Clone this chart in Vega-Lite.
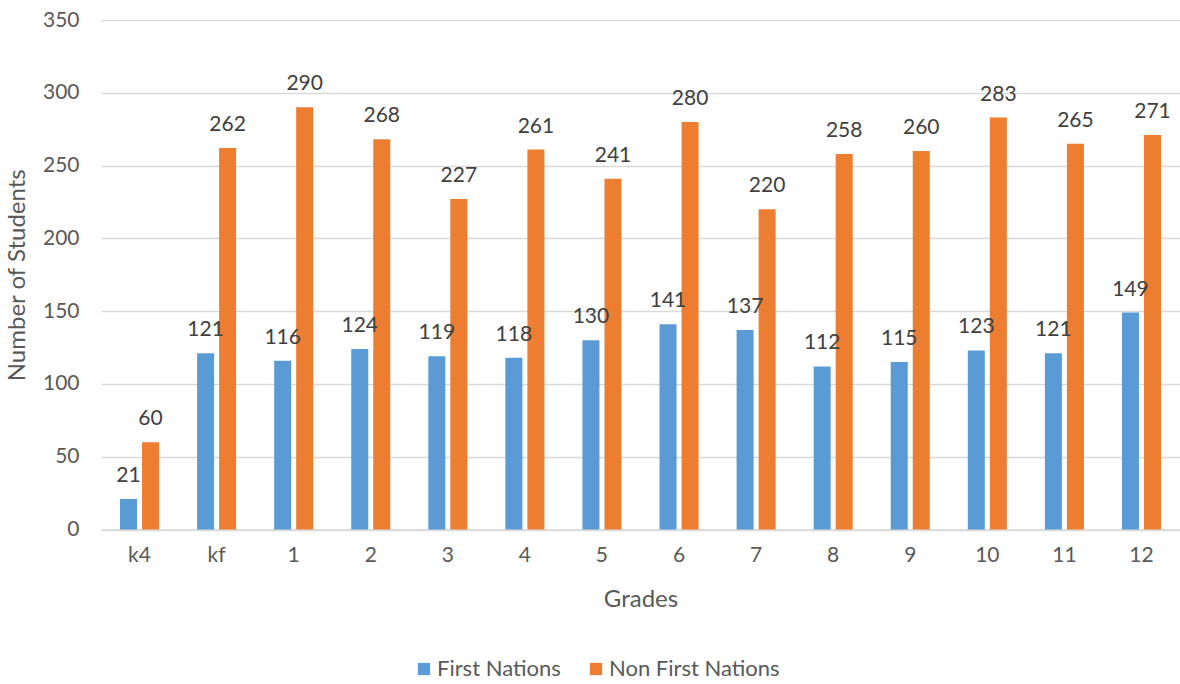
{
  "$schema": "https://vega.github.io/schema/vega-lite/v6.json",
  "autosize": {"type": "none"},
  "width": 1079,
  "height": 509.5,
  "padding": {"left": 101, "top": 20, "right": 0, "bottom": 154.5},
  "background": "white",
  "config": {
    "view": {"stroke": null},
    "font": "Lato",
    "axis": {"labelFont": "Lato", "titleFont": "Lato", "labelColor": "#595959", "titleColor": "#595959", "labelFontSize": 21, "titleFontSize": 24, "titleFontWeight": "normal"}
  },
  "data": {
    "values": [
      {"grade": "k4", "group": "First Nations", "value": 21},
      {"grade": "k4", "group": "Non First Nations", "value": 60},
      {"grade": "kf", "group": "First Nations", "value": 121},
      {"grade": "kf", "group": "Non First Nations", "value": 262},
      {"grade": "1", "group": "First Nations", "value": 116},
      {"grade": "1", "group": "Non First Nations", "value": 290},
      {"grade": "2", "group": "First Nations", "value": 124},
      {"grade": "2", "group": "Non First Nations", "value": 268},
      {"grade": "3", "group": "First Nations", "value": 119},
      {"grade": "3", "group": "Non First Nations", "value": 227},
      {"grade": "4", "group": "First Nations", "value": 118},
      {"grade": "4", "group": "Non First Nations", "value": 261},
      {"grade": "5", "group": "First Nations", "value": 130},
      {"grade": "5", "group": "Non First Nations", "value": 241},
      {"grade": "6", "group": "First Nations", "value": 141},
      {"grade": "6", "group": "Non First Nations", "value": 280},
      {"grade": "7", "group": "First Nations", "value": 137},
      {"grade": "7", "group": "Non First Nations", "value": 220},
      {"grade": "8", "group": "First Nations", "value": 112},
      {"grade": "8", "group": "Non First Nations", "value": 258},
      {"grade": "9", "group": "First Nations", "value": 115},
      {"grade": "9", "group": "Non First Nations", "value": 260},
      {"grade": "10", "group": "First Nations", "value": 123},
      {"grade": "10", "group": "Non First Nations", "value": 283},
      {"grade": "11", "group": "First Nations", "value": 121},
      {"grade": "11", "group": "Non First Nations", "value": 265},
      {"grade": "12", "group": "First Nations", "value": 149},
      {"grade": "12", "group": "Non First Nations", "value": 271}
    ]
  },
  "encoding": {
    "x": {
      "field": "grade", "type": "nominal", "sort": null,
      "scale": {"paddingInner": 0, "paddingOuter": 0},
      "axis": {"title": "Grades", "labelAngle": 0, "ticks": false, "labelPadding": 15, "titlePadding": 22, "domainColor": "#D9D9D9", "domainWidth": 1.5}
    },
    "xOffset": {
      "field": "group", "type": "nominal",
      "scale": {"paddingInner": 0.227, "paddingOuter": 0.864}
    },
    "y": {
      "field": "value", "type": "quantitative",
      "scale": {"domain": [0, 350]},
      "axis": {"title": "Number of Students", "values": [0, 50, 100, 150, 200, 250, 300, 350], "ticks": false, "domain": false, "labelPadding": 22, "gridColor": "#D9D9D9", "gridWidth": 1.5, "titlePadding": 13}
    }
  },
  "layer": [
    {
      "mark": {"type": "bar"},
      "encoding": {
        "color": {
          "field": "group", "type": "nominal",
          "scale": {"domain": ["First Nations", "Non First Nations"], "range": ["#5B9BD5", "#ED7D31"]},
          "legend": {
            "title": null, "orient": "none", "direction": "horizontal",
            "legendX": 312, "legendY": 638,
            "symbolType": "square", "symbolSize": 150, "symbolStrokeWidth": 0,
            "labelFont": "Lato", "labelFontSize": 22, "labelColor": "#595959",
            "labelOffset": 2, "labelLimit": 0, "columnPadding": 24
          }
        }
      }
    },
    {
      "mark": {"type": "text", "baseline": "alphabetic", "dy": -17, "fontSize": 21, "font": "Lato", "color": "#404040"},
      "encoding": {"text": {"field": "value", "type": "quantitative"}}
    }
  ]
}
